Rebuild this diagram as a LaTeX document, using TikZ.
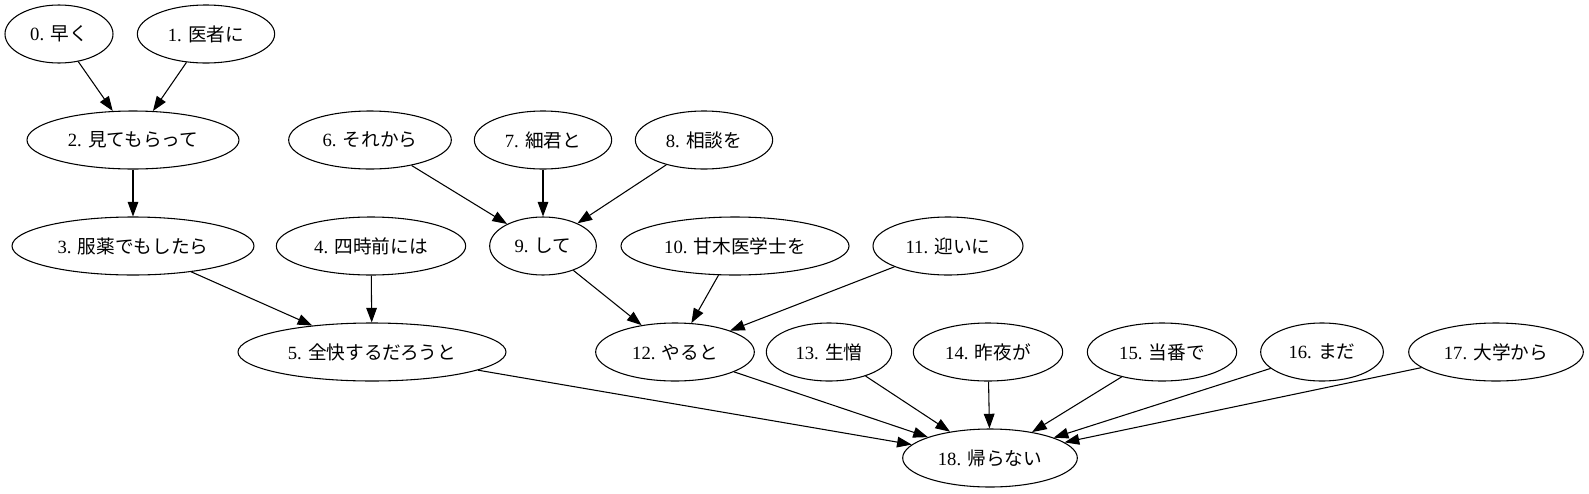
\documentclass[tikz,border=0pt]{standalone}
\usepackage{fontspec}
\setmainfont{Liberation Serif}
\newfontfamily\jp{Noto Sans CJK JP}
\usetikzlibrary{shapes.geometric,arrows.meta}
\newcommand{\lbl}[2]{#1. {\jp #2}}
\tikzset{word/.style={draw,ellipse,inner sep=0pt,minimum height=43.5pt,
                      line width=0.8pt,font=\fontsize{14}{17}\selectfont},
         dep/.style={draw,line width=0.8pt,-{Triangle[length=11pt,width=8pt]}}
         }

\begin{document}
\begin{tikzpicture}[x=0.75pt,y=-0.75pt]
\useasboundingbox (0,0) rectangle (1589,493);
% rank 0
\node[word,minimum width=81pt] (n0) at (59,34) {\lbl{0}{早く}};
\node[word,minimum width=103pt] (n1) at (206,34) {\lbl{1}{医者に}};
% rank 1
\node[word,minimum width=159pt] (n2) at (133,140) {\lbl{2}{見てもらって}};
\node[word,minimum width=122pt] (n6) at (370,140) {\lbl{6}{それから}};
\node[word,minimum width=103pt] (n7) at (543,140) {\lbl{7}{細君と}};
\node[word,minimum width=103pt] (n8) at (704,140) {\lbl{8}{相談を}};
% rank 2
\node[word,minimum width=181.5pt] (n3) at (133,246) {\lbl{3}{服薬でもしたら}};
\node[word,minimum width=142pt] (n4) at (371,246) {\lbl{4}{四時前には}};
\node[word,minimum width=80pt] (n9) at (543,246) {\lbl{9}{して}};
\node[word,minimum width=171pt] (n10) at (735,246) {\lbl{10}{甘木医学士を}};
\node[word,minimum width=112.5pt] (n11) at (948,246) {\lbl{11}{迎いに}};
% rank 3
\node[word,minimum width=201pt] (n5) at (372,352) {\lbl{5}{全快するだろうと}};
\node[word,minimum width=119pt] (n12) at (675,352) {\lbl{12}{やると}};
\node[word,minimum width=94pt] (n13) at (829,352) {\lbl{13}{生憎}};
\node[word,minimum width=112pt] (n14) at (988,352) {\lbl{14}{昨夜が}};
\node[word,minimum width=112pt] (n15) at (1162,352) {\lbl{15}{当番で}};
\node[word,minimum width=92pt] (n16) at (1322,352) {\lbl{16}{まだ}};
\node[word,minimum width=131pt] (n17) at (1496,352) {\lbl{17}{大学から}};
% rank 4
\node[word,minimum width=131pt] (n18) at (990,458) {\lbl{18}{帰らない}};

\draw[dep] (n0) -- (n2);
\draw[dep] (n1) -- (n2);
\draw[dep] (n2) -- (n3);
\draw[dep] (n3) -- (n5);
\draw[dep] (n4) -- (n5);
\draw[dep] (n6) -- (n9);
\draw[dep] (n7) -- (n9);
\draw[dep] (n8) -- (n9);
\draw[dep] (n9) -- (n12);
\draw[dep] (n10) -- (n12);
\draw[dep] (n11) -- (n12);
\foreach \i in {5,12,13,14,15,16,17}
  \draw[dep] (n\i) -- (n18);
\end{tikzpicture}
\end{document}
